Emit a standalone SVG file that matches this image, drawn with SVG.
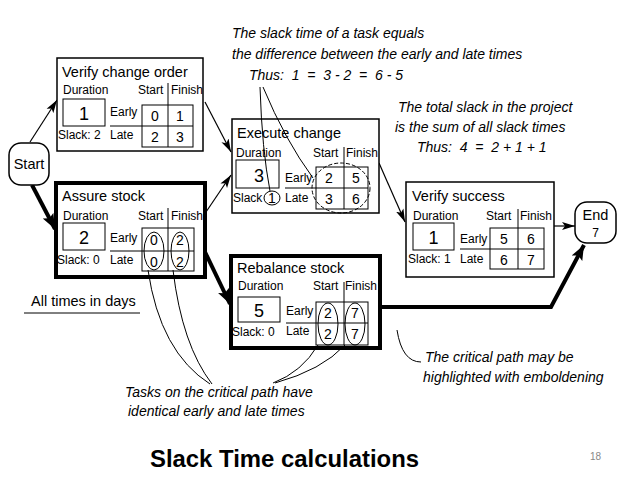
<svg xmlns="http://www.w3.org/2000/svg" width="638" height="478" viewBox="0 0 638 478">
<style>
text{font-family:"Liberation Sans",Arial,sans-serif;fill:#000}
.t{font-size:14.5px}
.s{font-size:12px}
.n{font-size:14px;text-anchor:middle}
.d{font-size:18px;text-anchor:middle}
.a{font-size:14px;font-style:italic}
.box{fill:#fff;stroke:#000;stroke-width:1.5}
.bold{fill:#fff;stroke:#000;stroke-width:4}
.g{fill:none;stroke:#000;stroke-width:1}
.thin{fill:none;stroke:#000;stroke-width:1.2}
.thick{fill:none;stroke:#000;stroke-width:4}
.el{fill:none;stroke:#000;stroke-width:1}
</style>
<defs>
<marker id="ah" markerUnits="userSpaceOnUse" markerWidth="14" markerHeight="10" refX="13" refY="5" orient="auto">
<path d="M0,1 L13,5 L0,9 L3,5 Z" fill="#000"/>
</marker>
<marker id="ahb" markerUnits="userSpaceOnUse" markerWidth="16" markerHeight="14" refX="15" refY="7" orient="auto">
<path d="M0,1 L15,7 L0,13 L3,7 Z" fill="#000"/>
</marker>
</defs>
<rect width="638" height="478" fill="#fff"/>

<g id="connectors">
<line class="thin" x1="30" y1="142" x2="57" y2="100" marker-end="url(#ah)"/>
<line class="thick" x1="32" y1="185" x2="55" y2="229" marker-end="url(#ahb)"/>
<line class="thin" x1="205" y1="102" x2="231" y2="152" marker-end="url(#ah)"/>
<line class="thin" x1="206" y1="212" x2="231" y2="175" marker-end="url(#ah)"/>
<line class="thick" x1="205" y1="252" x2="230" y2="304" marker-end="url(#ahb)"/>
<line class="thin" x1="379" y1="163" x2="405" y2="222" marker-end="url(#ah)"/>
<line class="thin" x1="554" y1="226" x2="575" y2="226" marker-end="url(#ah)"/>
<polyline class="thick" points="380,307 551,307 584,245" marker-end="url(#ahb)"/>
</g>

<g id="start">
<rect x="9" y="143" width="40" height="42" rx="12" class="box"/>
<text class="t" x="29" y="169" text-anchor="middle">Start</text>
</g>

<g id="end">
<rect x="575" y="202" width="41" height="41" rx="12" class="box"/>
<text class="t" x="595.5" y="220" text-anchor="middle">End</text>
<text class="s" x="595.5" y="237" text-anchor="middle">7</text>
</g>

<g id="verify-change-order" transform="translate(57,58)">
<rect x="0" y="0" width="146" height="93" class="box"/>
<text class="t" x="5" y="19">Verify change order</text>
<text class="s" x="6" y="36">Duration</text>
<rect x="6" y="41" width="42" height="27" class="g"/>
<text class="d" x="27" y="62">1</text>
<text class="s" x="1" y="81">Slack: 2</text>
<text class="s" x="53" y="58">Early</text>
<text class="s" x="53" y="81">Late</text>
<text class="s" x="81" y="36">Start</text>
<text class="s" x="114" y="36">Finish</text>
<rect x="85" y="47" width="51" height="42" class="g"/>
<line class="g" x1="53" y1="68" x2="136" y2="68"/>
<line class="g" x1="111" y1="25" x2="111" y2="89"/>
<text class="n" x="98" y="63">0</text>
<text class="n" x="123" y="63">1</text>
<text class="n" x="98" y="84">2</text>
<text class="n" x="123" y="84">3</text>
</g>

<g id="assure-stock" transform="translate(56,183)">
<rect x="0" y="0" width="149" height="94" class="bold"/>
<text class="t" x="6" y="18">Assure stock</text>
<text class="s" x="7" y="37">Duration</text>
<rect x="7" y="40" width="42" height="27" class="g"/>
<text class="d" x="28" y="61">2</text>
<text class="s" x="1" y="81">Slack: 0</text>
<text class="s" x="54" y="59">Early</text>
<text class="s" x="54" y="81">Late</text>
<text class="s" x="82" y="37">Start</text>
<text class="s" x="115" y="37">Finish</text>
<rect x="86" y="45" width="52" height="43" class="g"/>
<line class="g" x1="54" y1="68" x2="138" y2="68"/>
<line class="g" x1="112" y1="25" x2="112" y2="88"/>
<text class="n" x="98" y="62">0</text>
<text class="n" x="124" y="62">2</text>
<text class="n" x="98" y="84">0</text>
<text class="n" x="124" y="84">2</text>
<ellipse class="el" cx="98" cy="68" rx="10" ry="19"/>
<ellipse class="el" cx="124" cy="68" rx="9" ry="19"/>
</g>

<g id="execute-change" transform="translate(232,119)">
<rect x="0" y="0" width="147" height="94" class="box"/>
<text class="t" x="5" y="19">Execute change</text>
<text class="s" x="4" y="38">Duration</text>
<rect x="4" y="41" width="43" height="28" class="g"/>
<text class="d" x="27" y="63">3</text>
<text class="s" x="1" y="83">Slack</text>
<ellipse class="el" cx="40" cy="79" rx="8" ry="7"/>
<text class="n" x="40" y="84">1</text>
<text class="s" x="53" y="63">Early</text>
<text class="s" x="53" y="83">Late</text>
<text class="s" x="81" y="38">Start</text>
<text class="s" x="114" y="38">Finish</text>
<rect x="84" y="48" width="52" height="42" class="g"/>
<line class="g" x1="53" y1="69" x2="136" y2="69"/>
<line class="g" x1="112" y1="28" x2="112" y2="90"/>
<text class="n" x="97" y="64">2</text>
<text class="n" x="124" y="64">5</text>
<text class="n" x="97" y="85">3</text>
<text class="n" x="124" y="85">6</text>
<ellipse cx="109" cy="69" rx="29" ry="25" fill="none" stroke="#000" stroke-width="1" stroke-dasharray="4,2"/>
</g>

<g id="rebalance-stock" transform="translate(231,256)">
<rect x="0" y="0" width="149" height="92" class="bold"/>
<text class="t" x="6" y="17">Rebalance stock</text>
<text class="s" x="7" y="34">Duration</text>
<rect x="7" y="41" width="42" height="25" class="g"/>
<text class="d" x="28" y="61">5</text>
<text class="s" x="1" y="80">Slack: 0</text>
<text class="s" x="55" y="59">Early</text>
<text class="s" x="55" y="79">Late</text>
<text class="s" x="82" y="34">Start</text>
<text class="s" x="114" y="34">Finish</text>
<rect x="85" y="46" width="52" height="43" class="g"/>
<line class="g" x1="55" y1="67" x2="137" y2="67"/>
<line class="g" x1="113" y1="26" x2="113" y2="89"/>
<text class="n" x="97" y="62">2</text>
<text class="n" x="124" y="62">7</text>
<text class="n" x="97" y="83">2</text>
<text class="n" x="124" y="83">7</text>
<ellipse class="el" cx="97" cy="68" rx="10" ry="21"/>
<ellipse class="el" cx="124" cy="68" rx="10" ry="21"/>
</g>

<g id="verify-success" transform="translate(406,182)">
<rect x="0" y="0" width="148" height="95" class="box"/>
<text class="t" x="6" y="19">Verify success</text>
<text class="s" x="7" y="38">Duration</text>
<rect x="7" y="41" width="41" height="27" class="g"/>
<text class="d" x="27.5" y="62">1</text>
<text class="s" x="2" y="81">Slack: 1</text>
<text class="s" x="54" y="61">Early</text>
<text class="s" x="54" y="81">Late</text>
<text class="s" x="80" y="38">Start</text>
<text class="s" x="114" y="38">Finish</text>
<rect x="84" y="46" width="54" height="41" class="g"/>
<line class="g" x1="54" y1="67" x2="138" y2="67"/>
<line class="g" x1="112" y1="27" x2="112" y2="87"/>
<text class="n" x="98" y="62">5</text>
<text class="n" x="125" y="62">6</text>
<text class="n" x="98" y="83">6</text>
<text class="n" x="125" y="83">7</text>
</g>

<g id="annotations">
<text class="a" x="232" y="38">The slack time of a task equals</text>
<text class="a" x="232" y="59">the difference between the early and late times</text>
<text class="a" x="249" y="80" xml:space="preserve">Thus:  1  =  3 - 2  =  6 - 5</text>
<text class="a" x="398" y="112">The total slack in the project</text>
<text class="a" x="395" y="132">is the sum of all slack times</text>
<text class="a" x="417" y="152" xml:space="preserve">Thus:  4  =  2 + 1 + 1</text>
<path class="g" d="M260 87 Q 262 150 270 191"/>
<path class="g" d="M263 87 Q 285 140 313 178"/>
<text class="t" x="31" y="306">All times in days</text>
<line class="g" x1="24" y1="313" x2="140" y2="313"/>
<text class="a" x="125" y="397">Tasks on the critical path have</text>
<text class="a" x="128" y="416">identical early and late times</text>
<path class="g" d="M148 270 Q 160 352 210 384"/>
<path class="g" d="M173 270 Q 182 345 212 384"/>
<path class="g" d="M273 383 Q 302 372 318 345"/>
<path class="g" d="M275 383 Q 322 370 345 345"/>
<text class="a" x="425" y="362">The critical path may be</text>
<text class="a" x="423" y="382">highlighted with emboldening</text>
<path class="g" d="M397 330 Q 402 362 421 362"/>
</g>

<text x="150" y="467" font-size="24" font-weight="bold" textLength="269" lengthAdjust="spacingAndGlyphs">Slack Time calculations</text>
<text x="590" y="460" font-size="10" fill="#888" style="fill:#888">18</text>
</svg>
